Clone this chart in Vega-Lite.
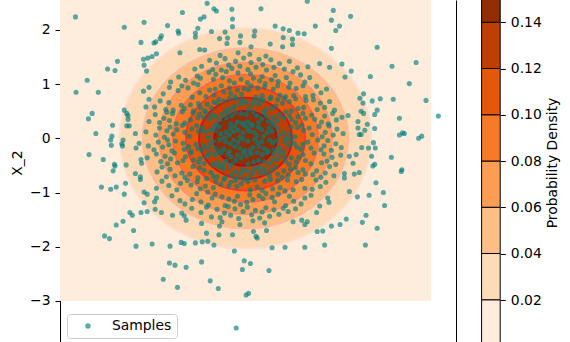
{
"$schema": "https://vega.github.io/schema/vega-lite/v6.json",
"autosize": "none",
"padding": {"left": 60, "top": 0, "right": 114, "bottom": 0},
"width": 396,
"height": 342,
"background": "white",
"config": {
 "font": "DejaVu Sans",
 "view": {"stroke": null},
 "axis": {"grid": false, "domainColor": "black", "tickColor": "black", "labelColor": "black", "titleColor": "black", "labelFontSize": 13.9, "titleFontSize": 13.9, "titleFontWeight": "normal", "tickSize": 5, "labelPadding": 5, "domainWidth": 1, "tickWidth": 1, "labelFont": "DejaVu Sans", "titleFont": "DejaVu Sans"}
},
"datasets": {
 "grid": [{"mid": 0.01, "xmin": -3, "xmax": 3, "ymin": -3, "ymax": 3}],
 "levels": [{"lvl":0.02,"mid":0.03,"r":2.037},{"lvl":0.04,"mid":0.05,"r":1.662},{"lvl":0.06,"mid":0.07,"r":1.397},{"lvl":0.08,"mid":0.09,"r":1.173},{"lvl":0.1,"mid":0.11,"r":0.964},{"lvl":0.12,"mid":0.13,"r":0.7515},{"lvl":0.14,"mid":0.15,"r":0.5065}],
 "bands": [{"lo":0,"hi":0.02},{"lo":0.02,"hi":0.04},{"lo":0.04,"hi":0.06},{"lo":0.06,"hi":0.08},{"lo":0.08,"hi":0.1},{"lo":0.1,"hi":0.12},{"lo":0.12,"hi":0.14},{"lo":0.14,"hi":0.16}],
 "samples": [
{"x1":-0.41,"x2":1.53},{"x1":-0.12,"x2":1.58},{"x1":0.07,"x2":1.55},{"x1":0.33,"x2":1.52},
{"x1":-0.82,"x2":1.28},{"x1":-0.71,"x2":1.33},{"x1":-0.58,"x2":1.44},{"x1":-0.53,"x2":1.27},{"x1":-0.47,"x2":1.39},{"x1":-0.39,"x2":1.26},{"x1":-0.33,"x2":1.47},{"x1":-0.27,"x2":1.35},{"x1":-0.22,"x2":1.29},{"x1":-0.16,"x2":1.42},{"x1":-0.09,"x2":1.33},{"x1":-0.03,"x2":1.48},{"x1":0.04,"x2":1.27},{"x1":0.09,"x2":1.4},{"x1":0.17,"x2":1.31},{"x1":0.22,"x2":1.46},{"x1":0.28,"x2":1.36},{"x1":0.34,"x2":1.26},{"x1":0.41,"x2":1.45},{"x1":0.46,"x2":1.31},{"x1":0.55,"x2":1.38},{"x1":0.63,"x2":1.28},{"x1":0.71,"x2":1.42},{"x1":0.84,"x2":1.3},
{"x1":-1.21,"x2":1.04},{"x1":-1.08,"x2":1.13},{"x1":-0.97,"x2":1.07},{"x1":-0.84,"x2":1.02},{"x1":-0.78,"x2":1.15},{"x1":-0.73,"x2":1.11},{"x1":-0.59,"x2":1.22},{"x1":-0.52,"x2":1.09},{"x1":-0.48,"x2":1.18},{"x1":-0.37,"x2":1.12},{"x1":-0.31,"x2":1.23},{"x1":-0.26,"x2":1.06},{"x1":-0.18,"x2":1.02},{"x1":-0.12,"x2":1.21},{"x1":-0.07,"x2":1.09},{"x1":0.03,"x2":1.03},{"x1":0.08,"x2":1.19},{"x1":0.13,"x2":1.11},{"x1":0.23,"x2":1.06},{"x1":0.27,"x2":1.14},{"x1":0.32,"x2":1.01},{"x1":0.42,"x2":1.08},{"x1":0.48,"x2":1.16},{"x1":0.53,"x2":1.05},{"x1":0.66,"x2":1.12},{"x1":0.72,"x2":1.02},{"x1":0.77,"x2":1.23},{"x1":0.89,"x2":1.17},{"x1":0.96,"x2":1.04},{"x1":1.04,"x2":1.12},
{"x1":-1.33,"x2":0.82},{"x1":-1.23,"x2":0.94},{"x1":-1.09,"x2":0.88},{"x1":-1.03,"x2":0.97},{"x1":-0.93,"x2":0.93},{"x1":-0.86,"x2":0.76},{"x1":-0.77,"x2":0.99},{"x1":-0.74,"x2":0.84},{"x1":-0.64,"x2":0.77},{"x1":-0.58,"x2":0.89},{"x1":-0.51,"x2":0.8},{"x1":-0.49,"x2":0.91},{"x1":-0.39,"x2":0.97},{"x1":-0.35,"x2":0.86},{"x1":-0.26,"x2":0.93},{"x1":-0.24,"x2":0.83},{"x1":-0.17,"x2":0.77},{"x1":-0.13,"x2":0.89},{"x1":-0.06,"x2":0.81},{"x1":-0.02,"x2":0.92},{"x1":0.05,"x2":0.9},{"x1":0.09,"x2":0.97},{"x1":0.17,"x2":0.76},{"x1":0.2,"x2":0.93},{"x1":0.27,"x2":0.79},{"x1":0.31,"x2":0.95},{"x1":0.41,"x2":0.76},{"x1":0.45,"x2":0.91},{"x1":0.52,"x2":0.97},{"x1":0.56,"x2":0.8},{"x1":0.65,"x2":0.77},{"x1":0.7,"x2":0.94},{"x1":0.78,"x2":0.79},{"x1":0.82,"x2":0.92},{"x1":0.93,"x2":0.97},{"x1":0.97,"x2":0.77},{"x1":1.09,"x2":0.79},{"x1":1.15,"x2":0.96},{"x1":1.22,"x2":0.84},{"x1":1.31,"x2":0.91},
{"x1":-1.47,"x2":0.58},{"x1":-1.38,"x2":0.69},{"x1":-1.29,"x2":0.53},{"x1":-1.24,"x2":0.66},{"x1":-1.17,"x2":0.52},{"x1":-1.04,"x2":0.61},{"x1":-0.99,"x2":0.55},{"x1":-0.89,"x2":0.62},{"x1":-0.84,"x2":0.51},{"x1":-0.76,"x2":0.64},{"x1":-0.73,"x2":0.57},{"x1":-0.66,"x2":0.51},{"x1":-0.62,"x2":0.63},{"x1":-0.55,"x2":0.56},{"x1":-0.51,"x2":0.67},{"x1":-0.46,"x2":0.65},{"x1":-0.43,"x2":0.72},{"x1":-0.35,"x2":0.69},{"x1":-0.32,"x2":0.51},{"x1":-0.26,"x2":0.74},{"x1":-0.24,"x2":0.55},{"x1":-0.18,"x2":0.59},{"x1":-0.15,"x2":0.73},{"x1":-0.08,"x2":0.64},{"x1":-0.05,"x2":0.71},{"x1":0.01,"x2":0.66},{"x1":0.04,"x2":0.53},{"x1":0.1,"x2":0.61},{"x1":0.14,"x2":0.69},{"x1":0.21,"x2":0.63},{"x1":0.24,"x2":0.72},{"x1":0.29,"x2":0.7},{"x1":0.33,"x2":0.52},{"x1":0.4,"x2":0.73},{"x1":0.43,"x2":0.56},{"x1":0.49,"x2":0.6},{"x1":0.52,"x2":0.71},{"x1":0.6,"x2":0.65},{"x1":0.63,"x2":0.74},{"x1":0.71,"x2":0.68},{"x1":0.74,"x2":0.51},{"x1":0.81,"x2":0.73},{"x1":0.85,"x2":0.55},{"x1":0.94,"x2":0.57},{"x1":0.98,"x2":0.7},{"x1":1.1,"x2":0.71},{"x1":1.16,"x2":0.53},{"x1":1.21,"x2":0.65},{"x1":1.28,"x2":0.57},{"x1":1.36,"x2":0.68},{"x1":1.44,"x2":0.52},
{"x1":-1.56,"x2":0.31},{"x1":-1.46,"x2":0.44},{"x1":-1.39,"x2":0.29},{"x1":-1.32,"x2":0.37},{"x1":-1.27,"x2":0.48},{"x1":-1.23,"x2":0.33},{"x1":-1.18,"x2":0.46},{"x1":-1.12,"x2":0.27},{"x1":-1.02,"x2":0.49},{"x1":-0.98,"x2":0.28},{"x1":-0.89,"x2":0.34},{"x1":-0.85,"x2":0.47},{"x1":-0.77,"x2":0.38},{"x1":-0.74,"x2":0.45},{"x1":-0.68,"x2":0.39},{"x1":-0.64,"x2":0.48},{"x1":-0.58,"x2":0.36},{"x1":-0.54,"x2":0.43},{"x1":-0.49,"x2":0.4},{"x1":-0.47,"x2":0.26},{"x1":-0.41,"x2":0.34},{"x1":-0.38,"x2":0.44},{"x1":-0.31,"x2":0.38},{"x1":-0.28,"x2":0.47},{"x1":-0.24,"x2":0.27},{"x1":-0.22,"x2":0.42},{"x1":-0.16,"x2":0.48},{"x1":-0.13,"x2":0.3},{"x1":-0.07,"x2":0.46},{"x1":-0.05,"x2":0.28},{"x1":0.01,"x2":0.44},{"x1":0.03,"x2":0.31},{"x1":0.09,"x2":0.26},{"x1":0.12,"x2":0.49},{"x1":0.18,"x2":0.42},{"x1":0.21,"x2":0.29},{"x1":0.26,"x2":0.36},{"x1":0.29,"x2":0.48},{"x1":0.34,"x2":0.41},{"x1":0.37,"x2":0.32},{"x1":0.43,"x2":0.29},{"x1":0.46,"x2":0.39},{"x1":0.52,"x2":0.33},{"x1":0.55,"x2":0.44},{"x1":0.62,"x2":0.38},{"x1":0.65,"x2":0.49},{"x1":0.71,"x2":0.42},{"x1":0.74,"x2":0.35},{"x1":0.81,"x2":0.29},{"x1":0.85,"x2":0.4},{"x1":0.93,"x2":0.46},{"x1":0.97,"x2":0.37},{"x1":1.07,"x2":0.43},{"x1":1.12,"x2":0.35},{"x1":1.23,"x2":0.3},{"x1":1.28,"x2":0.41},{"x1":1.34,"x2":0.27},{"x1":1.41,"x2":0.46},{"x1":1.47,"x2":0.34},{"x1":1.56,"x2":0.39},
{"x1":-1.61,"x2":0.12},{"x1":-1.45,"x2":0.06},{"x1":-1.39,"x2":0.19},{"x1":-1.31,"x2":0.02},{"x1":-1.27,"x2":0.14},{"x1":-1.22,"x2":0.21},{"x1":-1.17,"x2":0.08},{"x1":-1.11,"x2":0.16},{"x1":-1.02,"x2":0.24},{"x1":-0.98,"x2":0.11},{"x1":-0.91,"x2":0.04},{"x1":-0.87,"x2":0.17},{"x1":-0.79,"x2":0.23},{"x1":-0.76,"x2":0.13},{"x1":-0.7,"x2":0.19},{"x1":-0.66,"x2":0.12},{"x1":-0.6,"x2":0.02},{"x1":-0.57,"x2":0.15},{"x1":-0.51,"x2":0.21},{"x1":-0.49,"x2":0.14},{"x1":-0.43,"x2":0.22},{"x1":-0.4,"x2":0.09},{"x1":-0.34,"x2":0.01},{"x1":-0.31,"x2":0.11},{"x1":-0.26,"x2":0.06},{"x1":-0.24,"x2":0.18},{"x1":-0.2,"x2":0.12},{"x1":-0.17,"x2":0.22},{"x1":-0.12,"x2":0.15},{"x1":-0.09,"x2":0.02},{"x1":-0.04,"x2":0.1},{"x1":-0.02,"x2":0.24},{"x1":0.03,"x2":0.19},{"x1":0.06,"x2":0.13},{"x1":0.11,"x2":0.23},{"x1":0.14,"x2":0.11},{"x1":0.19,"x2":0.05},{"x1":0.21,"x2":0.21},{"x1":0.26,"x2":0.16},{"x1":0.29,"x2":0.04},{"x1":0.35,"x2":0.1},{"x1":0.38,"x2":0.19},{"x1":0.43,"x2":0.13},{"x1":0.46,"x2":0.24},{"x1":0.52,"x2":0.18},{"x1":0.55,"x2":0.06},{"x1":0.62,"x2":0.11},{"x1":0.65,"x2":0.01},{"x1":0.71,"x2":0.08},{"x1":0.74,"x2":0.21},{"x1":0.8,"x2":0.03},{"x1":0.84,"x2":0.2},{"x1":0.91,"x2":0.24},{"x1":0.94,"x2":0.15},{"x1":1.03,"x2":0.19},{"x1":1.08,"x2":0.07},{"x1":1.19,"x2":0.22},{"x1":1.24,"x2":0.03},{"x1":1.29,"x2":0.11},{"x1":1.35,"x2":0.23},{"x1":1.42,"x2":0.06},{"x1":1.48,"x2":0.17},{"x1":1.58,"x2":0.09},
{"x1":-1.57,"x2":-0.14},{"x1":-1.48,"x2":-0.21},{"x1":-1.41,"x2":-0.07},{"x1":-1.34,"x2":-0.16},{"x1":-1.26,"x2":-0.03},{"x1":-1.24,"x2":-0.12},{"x1":-1.19,"x2":-0.23},{"x1":-1.13,"x2":-0.05},{"x1":-1.01,"x2":-0.09},{"x1":-0.99,"x2":-0.2},{"x1":-0.92,"x2":-0.15},{"x1":-0.88,"x2":-0.24},{"x1":-0.8,"x2":-0.11},{"x1":-0.77,"x2":-0.19},{"x1":-0.71,"x2":-0.22},{"x1":-0.68,"x2":-0.14},{"x1":-0.61,"x2":-0.18},{"x1":-0.58,"x2":-0.1},{"x1":-0.52,"x2":-0.05},{"x1":-0.5,"x2":-0.17},{"x1":-0.44,"x2":-0.23},{"x1":-0.41,"x2":-0.02},{"x1":-0.35,"x2":-0.2},{"x1":-0.32,"x2":-0.06},{"x1":-0.26,"x2":-0.24},{"x1":-0.24,"x2":-0.1},{"x1":-0.19,"x2":-0.03},{"x1":-0.17,"x2":-0.15},{"x1":-0.12,"x2":-0.07},{"x1":-0.09,"x2":-0.18},{"x1":-0.04,"x2":-0.01},{"x1":-0.01,"x2":-0.22},{"x1":0.04,"x2":-0.05},{"x1":0.07,"x2":-0.23},{"x1":0.12,"x2":-0.17},{"x1":0.15,"x2":-0.02},{"x1":0.2,"x2":-0.08},{"x1":0.22,"x2":-0.15},{"x1":0.27,"x2":-0.06},{"x1":0.3,"x2":-0.19},{"x1":0.36,"x2":-0.23},{"x1":0.39,"x2":-0.03},{"x1":0.44,"x2":-0.08},{"x1":0.47,"x2":-0.21},{"x1":0.51,"x2":-0.04},{"x1":0.54,"x2":-0.17},{"x1":0.61,"x2":-0.24},{"x1":0.64,"x2":-0.06},{"x1":0.7,"x2":-0.13},{"x1":0.73,"x2":-0.02},{"x1":0.79,"x2":-0.09},{"x1":0.83,"x2":-0.16},{"x1":0.9,"x2":-0.2},{"x1":0.93,"x2":-0.11},{"x1":1.01,"x2":-0.07},{"x1":1.06,"x2":-0.18},{"x1":1.17,"x2":-0.03},{"x1":1.22,"x2":-0.21},{"x1":1.27,"x2":-0.14},{"x1":1.33,"x2":-0.04},{"x1":1.39,"x2":-0.22},{"x1":1.46,"x2":-0.1},{"x1":1.55,"x2":-0.17},
{"x1":-1.59,"x2":-0.36},{"x1":-1.44,"x2":-0.29},{"x1":-1.37,"x2":-0.43},{"x1":-1.3,"x2":-0.33},{"x1":-1.26,"x2":-0.47},{"x1":-1.21,"x2":-0.38},{"x1":-1.15,"x2":-0.27},{"x1":-1.1,"x2":-0.45},{"x1":-1.01,"x2":-0.41},{"x1":-0.97,"x2":-0.34},{"x1":-0.88,"x2":-0.27},{"x1":-0.84,"x2":-0.4},{"x1":-0.76,"x2":-0.44},{"x1":-0.73,"x2":-0.37},{"x1":-0.67,"x2":-0.46},{"x1":-0.63,"x2":-0.33},{"x1":-0.57,"x2":-0.28},{"x1":-0.53,"x2":-0.49},{"x1":-0.48,"x2":-0.3},{"x1":-0.46,"x2":-0.44},{"x1":-0.4,"x2":-0.27},{"x1":-0.37,"x2":-0.48},{"x1":-0.31,"x2":-0.42},{"x1":-0.28,"x2":-0.29},{"x1":-0.23,"x2":-0.34},{"x1":-0.21,"x2":-0.47},{"x1":-0.15,"x2":-0.4},{"x1":-0.13,"x2":-0.31},{"x1":-0.07,"x2":-0.36},{"x1":-0.04,"x2":-0.26},{"x1":0.02,"x2":-0.32},{"x1":0.04,"x2":-0.48},{"x1":0.1,"x2":-0.28},{"x1":0.13,"x2":-0.44},{"x1":0.19,"x2":-0.26},{"x1":0.21,"x2":-0.41},{"x1":0.27,"x2":-0.3},{"x1":0.3,"x2":-0.43},{"x1":0.35,"x2":-0.26},{"x1":0.38,"x2":-0.47},{"x1":0.44,"x2":-0.4},{"x1":0.46,"x2":-0.29},{"x1":0.52,"x2":-0.38},{"x1":0.55,"x2":-0.27},{"x1":0.62,"x2":-0.34},{"x1":0.65,"x2":-0.42},{"x1":0.71,"x2":-0.48},{"x1":0.74,"x2":-0.36},{"x1":0.82,"x2":-0.44},{"x1":0.86,"x2":-0.35},{"x1":0.93,"x2":-0.3},{"x1":0.97,"x2":-0.41},{"x1":1.06,"x2":-0.47},{"x1":1.11,"x2":-0.27},{"x1":1.23,"x2":-0.45},{"x1":1.27,"x2":-0.29},{"x1":1.32,"x2":-0.42},{"x1":1.4,"x2":-0.35},{"x1":1.46,"x2":-0.48},{"x1":1.54,"x2":-0.31},
{"x1":-1.43,"x2":-0.62},{"x1":-1.35,"x2":-0.53},{"x1":-1.28,"x2":-0.71},{"x1":-1.22,"x2":-0.57},{"x1":-1.14,"x2":-0.69},{"x1":-1.03,"x2":-0.64},{"x1":-0.98,"x2":-0.72},{"x1":-0.9,"x2":-0.66},{"x1":-0.85,"x2":-0.52},{"x1":-0.77,"x2":-0.73},{"x1":-0.74,"x2":-0.54},{"x1":-0.67,"x2":-0.59},{"x1":-0.63,"x2":-0.74},{"x1":-0.56,"x2":-0.63},{"x1":-0.52,"x2":-0.7},{"x1":-0.46,"x2":-0.71},{"x1":-0.43,"x2":-0.52},{"x1":-0.36,"x2":-0.56},{"x1":-0.33,"x2":-0.73},{"x1":-0.26,"x2":-0.53},{"x1":-0.23,"x2":-0.68},{"x1":-0.17,"x2":-0.62},{"x1":-0.14,"x2":-0.74},{"x1":-0.08,"x2":-0.66},{"x1":-0.05,"x2":-0.58},{"x1":0.02,"x2":-0.6},{"x1":0.05,"x2":-0.73},{"x1":0.11,"x2":-0.65},{"x1":0.14,"x2":-0.57},{"x1":0.21,"x2":-0.54},{"x1":0.24,"x2":-0.63},{"x1":0.3,"x2":-0.56},{"x1":0.33,"x2":-0.64},{"x1":0.39,"x2":-0.69},{"x1":0.42,"x2":-0.59},{"x1":0.48,"x2":-0.53},{"x1":0.52,"x2":-0.66},{"x1":0.59,"x2":-0.72},{"x1":0.62,"x2":-0.6},{"x1":0.69,"x2":-0.68},{"x1":0.73,"x2":-0.57},{"x1":0.81,"x2":-0.54},{"x1":0.85,"x2":-0.63},{"x1":0.93,"x2":-0.58},{"x1":0.97,"x2":-0.66},{"x1":1.09,"x2":-0.67},{"x1":1.15,"x2":-0.6},{"x1":1.22,"x2":-0.72},{"x1":1.29,"x2":-0.64},{"x1":1.36,"x2":-0.52},{"x1":1.43,"x2":-0.69},
{"x1":-1.35,"x2":-0.79},{"x1":-1.24,"x2":-0.87},{"x1":-1.11,"x2":-0.95},{"x1":-1.05,"x2":-0.83},{"x1":-0.94,"x2":-0.78},{"x1":-0.88,"x2":-0.86},{"x1":-0.78,"x2":-0.8},{"x1":-0.73,"x2":-0.93},{"x1":-0.65,"x2":-0.88},{"x1":-0.61,"x2":-0.99},{"x1":-0.52,"x2":-0.91},{"x1":-0.48,"x2":-0.79},{"x1":-0.4,"x2":-0.85},{"x1":-0.35,"x2":-0.76},{"x1":-0.27,"x2":-0.88},{"x1":-0.24,"x2":-0.81},{"x1":-0.17,"x2":-0.78},{"x1":-0.14,"x2":-0.89},{"x1":-0.07,"x2":-0.84},{"x1":-0.03,"x2":-0.76},{"x1":0.04,"x2":-0.8},{"x1":0.08,"x2":-0.95},{"x1":0.15,"x2":-0.77},{"x1":0.19,"x2":-0.9},{"x1":0.27,"x2":-0.96},{"x1":0.31,"x2":-0.79},{"x1":0.4,"x2":-0.76},{"x1":0.44,"x2":-0.93},{"x1":0.52,"x2":-0.78},{"x1":0.56,"x2":-0.91},{"x1":0.64,"x2":-0.97},{"x1":0.68,"x2":-0.77},{"x1":0.77,"x2":-0.95},{"x1":0.82,"x2":-0.8},{"x1":0.91,"x2":-0.76},{"x1":0.96,"x2":-0.92},{"x1":1.08,"x2":-0.94},{"x1":1.14,"x2":-0.77},{"x1":1.21,"x2":-0.89},{"x1":1.3,"x2":-0.81},
{"x1":-1.19,"x2":-1.06},{"x1":-1.06,"x2":-1.15},{"x1":-0.98,"x2":-1.21},{"x1":-0.86,"x2":-1.13},{"x1":-0.79,"x2":-1.02},{"x1":-0.72,"x2":-1.17},{"x1":-0.6,"x2":-1.23},{"x1":-0.54,"x2":-1.1},{"x1":-0.49,"x2":-1.03},{"x1":-0.38,"x2":-1.08},{"x1":-0.33,"x2":-1.24},{"x1":-0.27,"x2":-1.12},{"x1":-0.18,"x2":-1.16},{"x1":-0.13,"x2":-1.07},{"x1":-0.08,"x2":-1.22},{"x1":0.02,"x2":-1.18},{"x1":0.07,"x2":-1.04},{"x1":0.12,"x2":-1.13},{"x1":0.22,"x2":-1.06},{"x1":0.28,"x2":-1.11},{"x1":0.33,"x2":-1.02},{"x1":0.43,"x2":-1.09},{"x1":0.47,"x2":-1.17},{"x1":0.53,"x2":-1.03},{"x1":0.65,"x2":-1.24},{"x1":0.71,"x2":-1.07},{"x1":0.78,"x2":-1.16},{"x1":0.9,"x2":-1.21},{"x1":0.96,"x2":-1.1},{"x1":1.06,"x2":-1.05},
{"x1":-0.87,"x2":-1.29},{"x1":-0.72,"x2":-1.37},{"x1":-0.63,"x2":-1.27},{"x1":-0.55,"x2":-1.45},{"x1":-0.46,"x2":-1.31},{"x1":-0.41,"x2":-1.46},{"x1":-0.34,"x2":-1.38},{"x1":-0.28,"x2":-1.26},{"x1":-0.24,"x2":-1.42},{"x1":-0.17,"x2":-1.3},{"x1":-0.11,"x2":-1.48},{"x1":-0.04,"x2":-1.35},{"x1":0.03,"x2":-1.27},{"x1":0.1,"x2":-1.41},{"x1":0.16,"x2":-1.33},{"x1":0.23,"x2":-1.47},{"x1":0.27,"x2":-1.36},{"x1":0.33,"x2":-1.28},{"x1":0.39,"x2":-1.44},{"x1":0.46,"x2":-1.32},{"x1":0.54,"x2":-1.4},{"x1":0.61,"x2":-1.29},{"x1":0.69,"x2":-1.35},{"x1":0.81,"x2":-1.3},
{"x1":-0.38,"x2":-1.54},{"x1":-0.09,"x2":-1.59},{"x1":0.12,"x2":-1.52},{"x1":0.31,"x2":-1.56},
{"x1":-2.75,"x2":2.24},{"x1":-1.02,"x2":2.32},{"x1":-1.96,"x2":2.05},{"x1":-1.64,"x2":2.14},{"x1":-1.26,"x2":2.08},{"x1":-1.09,"x2":1.98},{"x1":-1.08,"x2":1.94},{"x1":-1.36,"x2":1.89},{"x1":-1.38,"x2":1.84},{"x1":-1.69,"x2":1.77},{"x1":-1.48,"x2":1.76},{"x1":-1.45,"x2":1.78},{"x1":-1.06,"x2":1.58},{"x1":-1.65,"x2":1.46},{"x1":-1.58,"x2":1.48},{"x1":-1.51,"x2":1.51},{"x1":-1.44,"x2":1.56},{"x1":-2.07,"x2":1.42},{"x1":-2.23,"x2":1.28},{"x1":-2.11,"x2":1.25},{"x1":-1.64,"x2":1.35},{"x1":-1.6,"x2":1.24},{"x1":-2.56,"x2":1.07},{"x1":-2.74,"x2":0.85},{"x1":-2.38,"x2":0.85},{"x1":-1.65,"x2":0.87},{"x1":-1.56,"x2":0.94},{"x1":-2.48,"x2":0.46},{"x1":-2.54,"x2":0.36},{"x1":-2.15,"x2":0.24},{"x1":-2.42,"x2":0.09},{"x1":-2.16,"x2":0.04},{"x1":-2.18,"x2":-0.03},{"x1":-2.17,"x2":-0.13},{"x1":-2.53,"x2":-0.3},{"x1":-2.3,"x2":-0.39},{"x1":-2.12,"x2":-0.48},{"x1":-2.11,"x2":-0.51},{"x1":-1.98,"x2":-0.03},{"x1":-2.0,"x2":-0.1},{"x1":-1.99,"x2":-0.14},{"x1":-1.92,"x2":0.46},{"x1":-1.9,"x2":0.42},{"x1":-1.9,"x2":0.35},{"x1":-1.92,"x2":0.23},{"x1":-1.88,"x2":0.23},{"x1":-1.96,"x2":0.52},{"x1":-1.78,"x2":0.09},{"x1":-1.72,"x2":-0.09},{"x1":-1.77,"x2":-0.18},{"x1":-1.93,"x2":-0.49},{"x1":-1.68,"x2":-0.46},{"x1":-1.69,"x2":-0.39},{"x1":-1.61,"x2":0.58},{"x1":-1.56,"x2":0.72},
{"x1":-0.62,"x2":2.49},{"x1":-0.51,"x2":2.39},{"x1":-0.47,"x2":2.35},{"x1":-0.22,"x2":2.38},{"x1":0.25,"x2":2.39},{"x1":1.0,"x2":2.53},{"x1":-0.73,"x2":2.2},{"x1":-0.67,"x2":2.24},{"x1":-0.21,"x2":2.2},{"x1":-0.77,"x2":2.03},{"x1":-0.21,"x2":2.06},{"x1":0.48,"x2":2.07},{"x1":0.61,"x2":2.02},{"x1":1.13,"x2":2.07},{"x1":-0.55,"x2":1.97},{"x1":-0.33,"x2":1.96},{"x1":-0.08,"x2":1.89},{"x1":0.15,"x2":1.98},{"x1":0.14,"x2":1.89},{"x1":-0.42,"x2":1.84},{"x1":-0.29,"x2":1.85},{"x1":-0.3,"x2":1.75},{"x1":-0.09,"x2":1.77},{"x1":0.09,"x2":1.69},{"x1":0.4,"x2":1.74},{"x1":0.61,"x2":1.86},{"x1":0.76,"x2":1.83},{"x1":0.85,"x2":1.94},{"x1":0.95,"x2":1.93},{"x1":0.71,"x2":1.99},{"x1":0.6,"x2":1.69},{"x1":0.76,"x2":1.73},{"x1":-0.74,"x2":1.64},{"x1":-0.66,"x2":1.63},{"x1":-0.81,"x2":1.87},{"x1":-0.81,"x2":1.94},{"x1":1.2,"x2":1.38},{"x1":1.01,"x2":1.32},
{"x1":1.42,"x2":2.36},{"x1":1.39,"x2":2.18},{"x1":1.52,"x2":2.07},{"x1":1.46,"x2":1.99},{"x1":1.7,"x2":2.25},{"x1":1.39,"x2":1.66},{"x1":2.13,"x2":1.68},{"x1":2.76,"x2":1.4},{"x1":2.37,"x2":1.33},{"x1":1.56,"x2":1.37},{"x1":1.71,"x2":1.24},{"x1":1.36,"x2":1.31},{"x1":2.02,"x2":1.14},{"x1":1.61,"x2":1.13},{"x1":2.65,"x2":1.01},{"x1":2.92,"x2":0.7},{"x1":1.91,"x2":0.82},{"x1":1.85,"x2":0.74},{"x1":1.9,"x2":0.65},{"x1":2.05,"x2":0.69},{"x1":2.18,"x2":0.73},{"x1":2.39,"x2":0.72},{"x1":2.13,"x2":0.52},{"x1":2.09,"x2":0.44},{"x1":1.87,"x2":0.5},{"x1":1.91,"x2":0.46},{"x1":1.66,"x2":0.42},{"x1":2.49,"x2":0.37},{"x1":3.12,"x2":0.41},{"x1":1.82,"x2":0.31},{"x1":1.97,"x2":0.26},{"x1":1.82,"x2":0.19},{"x1":2.09,"x2":0.18},{"x1":1.93,"x2":0.15},{"x1":1.84,"x2":0.07},{"x1":1.87,"x2":0.07},{"x1":2.54,"x2":0.1},{"x1":2.57,"x2":0.09},{"x1":2.49,"x2":0.06},{"x1":2.85,"x2":0.04},{"x1":2.8,"x2":0.0},{"x1":2.07,"x2":-0.08},{"x1":2.1,"x2":-0.18},{"x1":1.88,"x2":-0.17},{"x1":1.99,"x2":-0.18},{"x1":1.79,"x2":-0.3},{"x1":1.68,"x2":-0.33},{"x1":2.04,"x2":-0.33},{"x1":1.74,"x2":-0.46},{"x1":2.36,"x2":-0.35},{"x1":2.06,"x2":-0.51},{"x1":2.09,"x2":-0.48},{"x1":2.53,"x2":-0.58},
{"x1":-2.33,"x2":-0.9},{"x1":-2.18,"x2":-0.94},{"x1":-2.09,"x2":-0.9},{"x1":-1.94,"x2":-0.83},{"x1":-1.96,"x2":-1.03},{"x1":-2.14,"x2":-0.6},{"x1":-1.87,"x2":-1.37},{"x1":-1.83,"x2":-1.42},{"x1":-1.98,"x2":-1.53},{"x1":-2.09,"x2":-1.6},{"x1":-1.81,"x2":-1.7},{"x1":-2.28,"x2":-1.8},{"x1":-2.2,"x2":-1.85},{"x1":-1.77,"x2":-1.99},{"x1":-1.51,"x2":-1.95},{"x1":-1.22,"x2":-1.99},{"x1":-1.04,"x2":-1.92},{"x1":-0.99,"x2":-1.94},{"x1":-1.23,"x2":-2.3},{"x1":-1.14,"x2":-2.34},{"x1":-0.96,"x2":-2.38},{"x1":-1.33,"x2":-2.6},{"x1":-1.1,"x2":-2.75},{"x1":-1.69,"x2":-1.37},{"x1":-1.59,"x2":-1.35},{"x1":-1.46,"x2":-1.31},{"x1":-1.36,"x2":-1.37},{"x1":-1.18,"x2":-1.42},{"x1":-1.03,"x2":-1.38},{"x1":-0.99,"x2":-1.43},{"x1":-0.96,"x2":-1.51},{"x1":-1.64,"x2":-1.19},{"x1":-1.44,"x2":-1.1},{"x1":-1.47,"x2":-1.17},{"x1":-1.64,"x2":-0.99},{"x1":-1.59,"x2":-1.03},{"x1":-1.7,"x2":-0.76},{"x1":-1.7,"x2":-0.71},{"x1":-1.78,"x2":-0.65},{"x1":-1.44,"x2":-0.92},
{"x1":-0.71,"x2":-2.28},{"x1":-0.57,"x2":-2.63},{"x1":-0.44,"x2":-2.77},{"x1":0.01,"x2":-2.89},{"x1":0.05,"x2":-2.86},{"x1":-0.15,"x2":-3.5},{"x1":-0.02,"x2":-2.26},{"x1":0.08,"x2":-2.31},{"x1":-0.05,"x2":-2.42},{"x1":0.38,"x2":-2.44},{"x1":-0.18,"x2":-2.08},{"x1":0.43,"x2":-2.02},{"x1":0.64,"x2":-2.01},{"x1":0.96,"x2":-2.01},{"x1":1.28,"x2":-1.97},{"x1":-0.81,"x2":-1.93},{"x1":-0.7,"x2":-1.91},{"x1":-0.61,"x2":-1.9},{"x1":-0.51,"x2":-1.97},{"x1":-0.63,"x2":-1.75},{"x1":-0.43,"x2":-1.78},{"x1":-0.21,"x2":-1.78},{"x1":0.13,"x2":-1.72},{"x1":0.17,"x2":-1.81},{"x1":0.19,"x2":-1.84},{"x1":0.34,"x2":-1.7},{"x1":-0.71,"x2":-1.57},{"x1":0.77,"x2":-1.54},{"x1":0.91,"x2":-1.51},{"x1":1.0,"x2":-1.54},{"x1":0.96,"x2":-1.59},{"x1":1.16,"x2":-1.72},{"x1":1.25,"x2":-1.71},{"x1":1.15,"x2":-1.37},{"x1":1.2,"x2":-1.25},{"x1":-0.42,"x2":-1.62},
{"x1":2.52,"x2":-0.61},{"x1":2.11,"x2":-0.82},{"x1":2.23,"x2":-1.0},{"x1":2.0,"x2":-1.05},{"x1":1.81,"x2":-1.08},{"x1":1.68,"x2":-0.98},{"x1":2.25,"x2":-1.24},{"x1":1.95,"x2":-1.42},{"x1":1.89,"x2":-1.55},{"x1":2.13,"x2":-1.66},{"x1":1.63,"x2":-1.49},{"x1":1.53,"x2":-1.59},{"x1":1.39,"x2":-1.62},{"x1":1.94,"x2":-1.97},{"x1":1.6,"x2":-0.65},{"x1":1.6,"x2":-0.73},{"x1":1.76,"x2":-0.66},{"x1":1.84,"x2":-0.63},{"x1":1.33,"x2":-1.1},{"x1":1.35,"x2":-1.18}
 ]
},
"resolve": {"scale": {"y": "independent"}, "axis": {"y": "independent"}},
"layer": [
 {
  "data": {"name": "grid"},
  "mark": {"type": "rect", "clip": true},
  "encoding": {
   "x": {"field": "xmin", "type": "quantitative", "scale": {"domain": [-3, 3.405], "nice": false, "zero": false}, "axis": null},
   "x2": {"field": "xmax"},
   "y": {"field": "ymin", "type": "quantitative", "scale": {"domain": [-3.758, 2.552], "nice": false, "zero": false}, "axis": {"orient": "left", "values": [-3, -2, -1, 0, 1, 2], "format": "d", "title": "X_2", "titlePadding": 5, "titleY": 162.5}},
   "y2": {"field": "ymax"},
   "fill": {"field": "mid", "type": "quantitative", "scale": {"type": "quantize", "domain": [0, 0.16], "nice": false, "zero": false, "range": ["#feeddc", "#fddbb8", "#fdbf86", "#fd9d53", "#f77b27", "#e5580a", "#bf3f02", "#922e03"]}, "legend": {"type": "gradient", "direction": "vertical", "orient": "none", "legendX": 421.6, "legendY": -24, "padding": 0, "title": null, "gradientLength": 370, "gradientThickness": 18.6, "gradientStrokeColor": "black", "gradientStrokeWidth": 1, "labelExpr": "''"}}
  }
 },
 {
  "data": {"name": "levels"},
  "mark": {"type": "point", "shape": "M1,0C1,0.4841,0.5523,0.8766,0,0.8766C-0.5523,0.8766,-1,0.4841,-1,0C-1,-0.4841,-0.5523,-0.8766,0,-0.8766C0.5523,-0.8766,1,-0.4841,1,0Z", "filled": true, "opacity": 1, "strokeWidth": 0, "clip": true},
  "encoding": {
   "x": {"datum": 0, "type": "quantitative", "scale": {"domain": [-3, 3.405], "nice": false, "zero": false}, "axis": null},
   "y": {"datum": 0, "type": "quantitative", "scale": {"domain": [-3.758, 2.552], "nice": false, "zero": false}, "axis": null},
   "size": {"field": "r", "type": "quantitative", "scale": {"type": "pow", "exponent": 2, "domain": [0, 3], "range": [0, 137626]}, "legend": null},
   "fill": {"field": "mid", "type": "quantitative", "scale": {"type": "quantize", "domain": [0, 0.16], "nice": false, "zero": false, "range": ["#feeddc", "#fddbb8", "#fdbf86", "#fd9d53", "#f77b27", "#e5580a", "#bf3f02", "#922e03"]}, "legend": {"type": "gradient", "direction": "vertical", "orient": "none", "legendX": 421.6, "legendY": -24, "padding": 0, "title": null, "gradientLength": 370, "gradientThickness": 18.6, "gradientStrokeColor": "black", "gradientStrokeWidth": 1, "labelExpr": "''"}}
  }
 },
 {
  "data": {"name": "levels"},
  "mark": {"type": "point", "shape": "M1,0C1,0.4841,0.5523,0.8766,0,0.8766C-0.5523,0.8766,-1,0.4841,-1,0C-1,-0.4841,-0.5523,-0.8766,0,-0.8766C0.5523,-0.8766,1,-0.4841,1,0Z", "filled": false, "opacity": 1, "strokeWidth": 1.8, "clip": true},
  "encoding": {
   "x": {"datum": 0, "type": "quantitative", "scale": {"domain": [-3, 3.405], "nice": false, "zero": false}, "axis": null},
   "y": {"datum": 0, "type": "quantitative", "scale": {"domain": [-3.758, 2.552], "nice": false, "zero": false}, "axis": null},
   "size": {"field": "r", "type": "quantitative", "scale": {"type": "pow", "exponent": 2, "domain": [0, 3], "range": [0, 137626]}, "legend": null},
   "stroke": {"field": "lvl", "type": "ordinal", "scale": {"domain": [0.02, 0.04, 0.06, 0.08, 0.1, 0.12, 0.14], "range": ["#fee0d2", "#fcbba1", "#fc9272", "#fb6a4a", "#ef3b2c", "#cb181d", "#a50f15"]}, "legend": null}
  }
 },
 {
  "data": {"name": "samples"},
  "mark": {"type": "point", "shape": "circle", "filled": true, "size": 26, "opacity": 0.65, "strokeWidth": 0, "clip": true},
  "encoding": {
   "x": {"field": "x1", "type": "quantitative", "scale": {"domain": [-3, 3.405], "nice": false, "zero": false}, "axis": null},
   "y": {"field": "x2", "type": "quantitative", "scale": {"domain": [-3.758, 2.552], "nice": false, "zero": false}, "axis": {"orient": "right", "labels": false, "ticks": false, "title": null, "domain": true}},
   "color": {"datum": "Samples", "type": "nominal", "scale": {"range": ["#008080"]}, "legend": {"orient": "none", "legendX": 7, "legendY": 314, "title": null, "fillColor": "rgba(255,255,255,0.8)", "strokeColor": "#cccccc", "cornerRadius": 3, "padding": 5, "symbolOffset": 9, "labelOffset": 17, "labelFontSize": 13.9, "labelFont": "DejaVu Sans", "labelColor": "black", "symbolSize": 30, "symbolType": "circle", "symbolOpacity": 0.65, "symbolStrokeWidth": 0}}
  }
 },
 {
  "data": {"name": "bands"},
  "mark": {"type": "rect", "clip": true, "opacity": 0},
  "encoding": {
   "y": {"field": "lo", "type": "quantitative", "scale": {"domain": [0.0019, 0.1496], "nice": false, "zero": false}, "axis": {"orient": "right", "offset": 44.3, "domain": false, "values": [0, 0.02, 0.04, 0.06, 0.08, 0.1, 0.12, 0.14], "format": ".2f", "title": "Probability Density", "titleAngle": 270, "titleBaseline": "top", "titlePadding": 4, "titleY": 162.5}},
   "y2": {"field": "hi"}
  }
 }
]
}
